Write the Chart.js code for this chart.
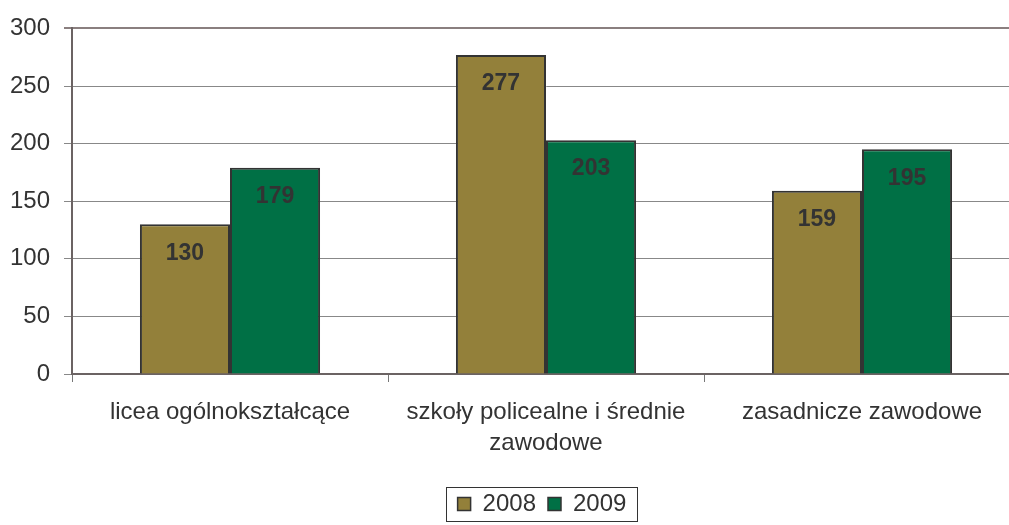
<!DOCTYPE html>
<html>
<head>
<meta charset="utf-8">
<script src="https://cdn.jsdelivr.net/npm/chart.js@4.4.0/dist/chart.umd.min.js"></script>
<style>
  html, body { margin: 0; padding: 0; background: #fff; overflow: hidden; }
  #wrap { width: 1092px; height: 525px; }
</style>
</head>
<body>
<div id="wrap"><canvas id="chart"></canvas></div>
<script>
// chart data
const categories = ['licea ogólnokształcące', ['szkoły policealne i średnie', 'zawodowe'], 'zasadnicze zawodowe'];
const values2008 = [130, 277, 159];
const values2009 = [179, 203, 195];
const seriesNames = ['2008', '2009'];
const yTicks = [0, 50, 100, 150, 200, 250, 300];

const textColor = '#333333';
const fontFamily = '"Liberation Sans", Arial, sans-serif';

// value labels near the top inside each bar
const barLabels = {
    id: 'barLabels',
    afterDatasetsDraw(chart) {
        const ctx = chart.ctx;
        ctx.save();
        ctx.font = 'bold 23px ' + fontFamily;
        ctx.fillStyle = textColor;
        ctx.textAlign = 'center';
        ctx.textBaseline = 'middle';
        chart.data.datasets.forEach((ds, i) => {
            chart.getDatasetMeta(i).data.forEach((bar, j) => {
                ctx.fillText(ds.data[j], bar.x, bar.y + 29);
            });
        });
        ctx.restore();
    }
};

// legend sits centred under the plot area, framed
const legendFrame = {
    id: 'legendFrame',
    afterLayout(chart) {
        const lg = chart.legend;
        lg.left += 32; lg.right += 32;
        lg.top += 1; lg.bottom += 1;
    },
    afterDraw(chart) {
        const boxes = chart.legend.legendHitBoxes;
        if (!boxes || !boxes.length) return;
        const left = boxes[0].left - 12;
        const last = boxes[boxes.length - 1];
        const right = last.left + last.width + 10;
        const mid = boxes[0].top + boxes[0].height / 2;
        const ctx = chart.ctx;
        ctx.save();
        ctx.strokeStyle = '#333333';
        ctx.lineWidth = 1;
        ctx.strokeRect(Math.round(left) + 0.5, Math.round(mid - 17) + 0.5, Math.round(right - left), 34);
        ctx.restore();
    }
};

new Chart(document.getElementById('chart').getContext('2d'), {
    type: 'bar',
    data: {
        labels: categories,
        datasets: [
            {
                label: seriesNames[0],
                data: values2008,
                backgroundColor: '#93803a',
                borderColor: '#333333',
                borderWidth: 2
            },
            {
                label: seriesNames[1],
                data: values2009,
                backgroundColor: '#007045',
                borderColor: '#333333',
                borderWidth: 2
            }
        ]
    },
    options: {
        responsive: true,
        maintainAspectRatio: false,
        animation: false,
        layout: { padding: { left: 0, right: 72, top: 10, bottom: 0 } },
        datasets: { bar: { barPercentage: 1, categoryPercentage: 0.57 } },
        plugins: {
            tooltip: { enabled: false },
            legend: {
                position: 'bottom',
                labels: {
                    color: textColor,
                    font: { family: fontFamily, size: 24 },
                    boxWidth: 13,
                    boxHeight: 13,
                    padding: 12,
                    generateLabels(chart) {
                        return chart.data.datasets.map((ds, i) => ({
                            text: ds.label,
                            fillStyle: ds.backgroundColor,
                            strokeStyle: '#333333',
                            lineWidth: 1.5,
                            fontColor: textColor,
                            datasetIndex: i
                        }));
                    }
                }
            }
        },
        scales: {
            x: {
                offset: true,
                grid: { display: true, offset: true, drawOnChartArea: false, tickLength: 8, color: '#777777' },
                border: { color: '#6b6363', width: 2 },
                ticks: {
                    color: textColor,
                    font: { family: fontFamily, size: 24, lineHeight: 1.3 },
                    padding: 15,
                    maxRotation: 0
                },
                afterFit(scale) { scale.height = 105; }
            },
            y: {
                min: 0,
                max: 300,
                afterBuildTicks(scale) { scale.ticks = yTicks.map(v => ({ value: v })); },
                grid: {
                    color: ctx => ctx.tick && ctx.tick.value === 300 ? '#8a7f7f' : '#888888',
                    lineWidth: ctx => ctx.tick && ctx.tick.value === 300 ? 2 : 1,
                    tickLength: 8
                },
                border: { color: '#6b6363', width: 2 },
                ticks: {
                    color: textColor,
                    font: { family: fontFamily, size: 24 },
                    padding: 14
                },
                afterFit(scale) { scale.width = 72; }
            }
        }
    },
    plugins: [barLabels, legendFrame]
});
</script>
</body>
</html>
